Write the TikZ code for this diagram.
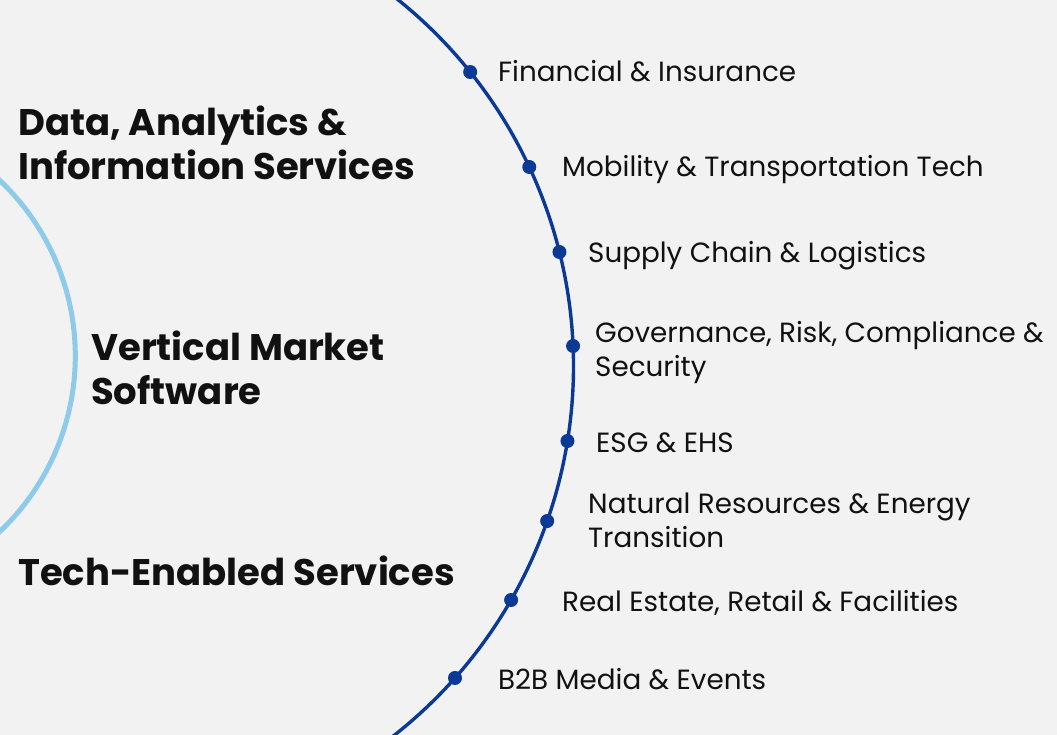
\documentclass[tikz,border=0pt]{standalone}
\usepackage{fontspec}
\setmainfont{Poppins}
\definecolor{bgc}{HTML}{F2F2F2}
\definecolor{navy}{HTML}{0A3A96}
\definecolor{sky}{HTML}{8ECAE9}
\definecolor{ink}{HTML}{111111}
\begin{document}
\begin{tikzpicture}[x=1pt,y=-1pt,
  dot/.style={circle,fill=navy,inner sep=0pt,minimum size=14pt},
  item/.style={inner sep=0pt,text=ink,font=\fontsize{27.8}{34}\selectfont,align=left},
  head/.style={inner sep=0pt,text=ink,font=\fontsize{37}{44}\selectfont\bfseries,align=left}]
  % canvas
  \fill[bgc] (0,0) rectangle (1057,735);
  \useasboundingbox (0,0) rectangle (1057,735);
  \begin{scope}
    \clip (0,0) rectangle (1057,735);
    % inner (light) ring
    \coordinate (ci) at (-166.7,356);
    \draw[sky,line width=5pt] ([shift={(-50:242)}]ci) arc[start angle=-50,end angle=50,radius=242];
    % outer (navy) ring
    \coordinate (co) at (103.5,366);
    \draw[navy,line width=3.4pt] ([shift={(-54:470)}]co) arc[start angle=-54,end angle=54,radius=470];
  \end{scope}
  % markers on the outer ring
  \node[dot] (d1) at ([shift={(-38.72:470)}]co) {};
  \node[dot] (d2) at ([shift={(-25.05:470)}]co) {};
  \node[dot] (d3) at ([shift={(-14.04:470)}]co) {};
  \node[dot] (d4) at ([shift={(-2.44:470)}]co) {};
  \node[dot] (d5) at ([shift={(9.18:470)}]co) {};
  \node[dot] (d6) at ([shift={(19.26:470)}]co) {};
  \node[dot] (d7) at ([shift={(29.86:470)}]co) {};
  \node[dot] (d8) at ([shift={(41.59:470)}]co) {};
  % sector labels (base = baseline of the last line)
  \node[item,anchor=base west] (l1) at (498,82) {Financial \& Insurance};
  \node[item,anchor=base west] (l2) at (562,177) {Mobility \& Transportation Tech};
  \node[item,anchor=base west] (l3) at (588,262) {Supply Chain \& Logistics};
  \node[item,anchor=base west] (l4) at (595,376) {Governance, Risk, Compliance \&\\Security};
  \node[item,anchor=base west] (l5) at (596,452) {ESG \& EHS};
  \node[item,anchor=base west] (l6) at (588,547) {Natural Resources \& Energy\\Transition};
  \node[item,anchor=base west] (l7) at (562,611) {Real Estate, Retail \& Facilities};
  \node[item,anchor=base west] (l8) at (498,689) {B2B Media \& Events};
  % segment headings
  \node[head,anchor=base west] (h1) at (18,180) {Data, Analytics \&\\Information Services};
  \node[head,anchor=base west] (h2) at (91,404) {Vertical Market\\Software};
  \node[head,anchor=base west] (h3) at (18,585) {Tech-Enabled Services};
\end{tikzpicture}
\end{document}
